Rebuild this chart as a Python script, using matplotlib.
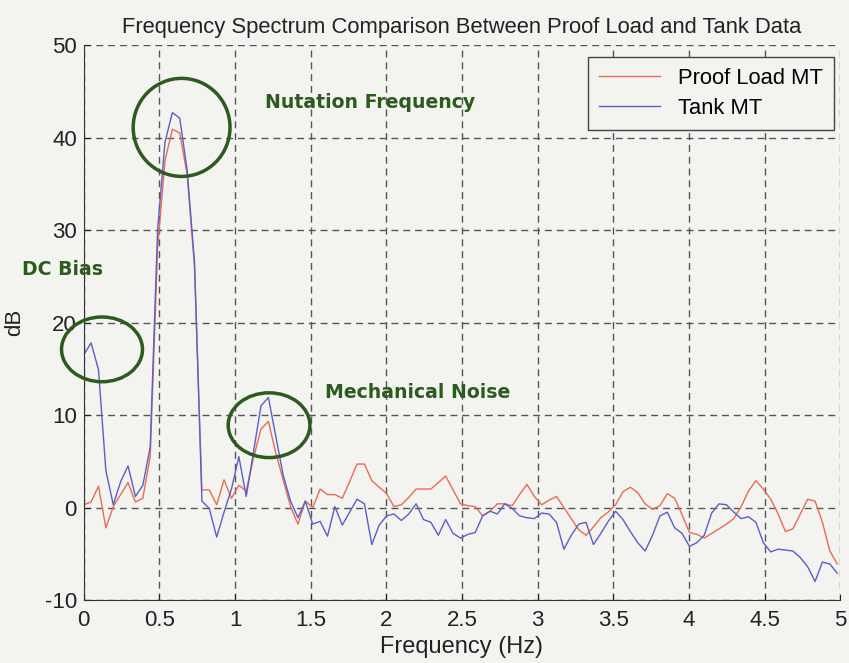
import numpy as np
import matplotlib.pyplot as plt
from matplotlib.patches import Ellipse

# frequency bins (fs = 100 Hz, 2048-point FFT)
freq = np.arange(103) * 100 / 2048

proof_load = [0.3, 0.6, 2.3, -2.2, 0.1, 1.4, 2.7, 0.6, 1.0, 5.5,
              28.0, 37.5, 40.9, 40.5, 36.0, 26.0, 1.9, 1.9, 0.3, 3.0,
              1.0, 2.4, 1.8, 5.4, 8.5, 9.3, 5.9, 3.0, 0.1, -1.8,
              0.7, 0.0, 2.0, 1.4, 1.4, 1.0, 2.8, 4.7, 4.7, 2.9,
              2.2, 1.5, 0.1, 0.3, 1.1, 2.0, 2.0, 2.0, 2.7, 3.4,
              1.9, 0.4, 0.2, 0.1, -0.9, -0.4, 0.4, 0.4, 0.2, 1.4,
              2.5, 1.2, 0.3, 0.8, 1.2, 0.0, -1.2, -2.4, -3.0, -2.1,
              -1.1, -0.5, 0.3, 1.7, 2.2, 1.6, 0.4, -0.2, 0.2, 1.5,
              1.0, -0.8, -2.7, -2.9, -3.3, -2.8, -2.3, -1.8, -1.2, 0.1,
              1.8, 2.9, 2.0, 0.9, -0.7, -2.6, -2.3, -0.7, 0.9, 0.7,
              -1.6, -4.7, -6.1]

tank = [16.5, 17.8, 14.9, 4.0, 0.3, 2.8, 4.5, 1.2, 2.4, 6.5,
        30.0, 39.5, 42.7, 42.1, 36.5, 26.5, 0.7, -0.1, -3.2, -0.5,
        2.0, 5.5, 1.2, 6.1, 11.0, 11.9, 7.7, 3.5, 0.7, -1.1,
        0.7, -1.8, -1.5, -3.1, 0.1, -1.9, -0.5, 0.9, 0.4, -4.0,
        -1.9, -0.9, -0.7, -1.4, -0.7, 0.4, -1.3, -1.6, -3.0, -1.3,
        -2.8, -3.3, -2.9, -2.7, -0.9, -0.4, -0.7, 0.4, -0.1, -0.9,
        -1.1, -1.2, -0.6, -0.7, -1.6, -4.5, -3.0, -1.8, -1.6, -4.0,
        -2.8, -1.5, -0.4, -1.3, -2.6, -3.8, -4.7, -3.0, -0.9, -0.5,
        -2.2, -2.8, -4.2, -3.8, -3.0, -0.6, 0.4, 0.3, -0.5, -1.2,
        -1.0, -1.6, -3.8, -4.8, -4.5, -4.6, -4.7, -5.4, -6.4, -8.0,
        -5.9, -6.1, -7.1]

xticks = [0, 0.5, 1, 1.5, 2, 2.5, 3, 3.5, 4, 4.5, 5]
xticklabels = ['0', '0.5', '1', '1.5', '2', '2.5', '3', '3.5', '4', '4.5', '5']
yticks = [-10, 0, 10, 20, 30, 40, 50]

plt.rcParams['font.family'] = ['Liberation Sans', 'DejaVu Sans']
plt.rcParams['axes.unicode_minus'] = False

bg = '#f3f3f0'
green = '#2d5a1f'

fig = plt.figure(figsize=(8.49, 6.63), dpi=100, facecolor=bg)
ax = fig.add_axes([0.0986, 0.095, 0.891, 0.837])
ax.set_facecolor(bg)

ax.plot(freq, proof_load, color='#e86c55', lw=1.0, label='Proof Load MT')
ax.plot(freq, tank, color='#5a5fc8', lw=1.0, label='Tank MT')

ax.set_xlim(0, 5)
ax.set_ylim(-10, 50)
ax.set_xticks(xticks)
ax.set_xticklabels(xticklabels)
ax.set_yticks(yticks)
ax.tick_params(direction='in', length=4, labelsize=16, colors='#222222')
ax.tick_params(axis='x', pad=7)
ax.tick_params(axis='y', pad=5)
ax.grid(True, color='#555555', linestyle=(0, (5, 3.5)), linewidth=1.0)
ax.spines['top'].set_visible(False)
ax.spines['right'].set_visible(False)
for s in ['left', 'bottom']:
    ax.spines[s].set_color('#333333')

ax.set_title('Frequency Spectrum Comparison Between Proof Load and Tank Data',
             fontsize=15.8, color='#222222', pad=9)
ax.set_xlabel('Frequency (Hz)', fontsize=17, color='#222222', labelpad=4)
ax.set_ylabel('dB', fontsize=16, color='#222222', labelpad=14)

leg = ax.legend(loc='upper right', fontsize=15.8, handlelength=2.8,
                fancybox=False, framealpha=1, borderpad=0.5,
                labelspacing=0.4, bbox_to_anchor=(1.006, 0.998))
leg.get_frame().set_edgecolor('#444444')
leg.get_frame().set_facecolor(bg)

# annotations
for (cx, cy, w, h) in [(0.647, 41.1, 0.64, 10.6), (0.121, 17.1, 0.535, 7.0),
                       (1.225, 8.9, 0.54, 7.0)]:
    ax.add_patch(Ellipse((cx, cy), w, h, fill=False, edgecolor=green,
                         lw=2.5, clip_on=False, zorder=5))

ax.text(1.89, 43.8, 'Nutation Frequency', color=green, fontsize=13.6,
        fontweight='bold', ha='center', va='center', family='DejaVu Sans')
ax.text(-0.143, 25.7, 'DC Bias', color=green, fontsize=13.6,
        fontweight='bold', ha='center', va='center', family='DejaVu Sans',
        clip_on=False)
ax.text(2.21, 12.4, 'Mechanical Noise', color=green, fontsize=13.6,
        fontweight='bold', ha='center', va='center', family='DejaVu Sans')

fig.savefig('out.png', dpi=100, facecolor=bg)
